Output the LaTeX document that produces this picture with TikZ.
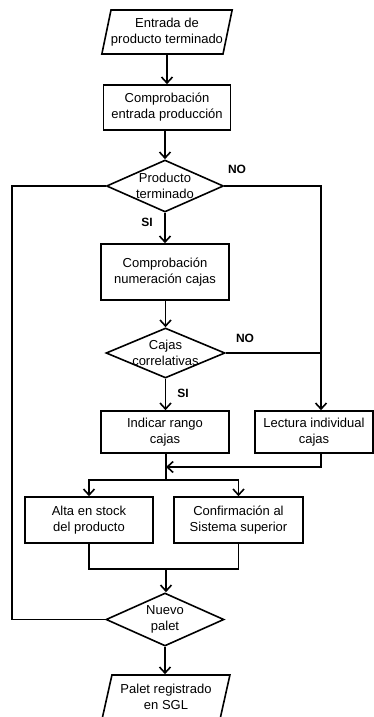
\documentclass[tikz,border=0pt]{standalone}
\usepackage{fontspec}
\setmainfont{Liberation Sans}
\usetikzlibrary{shapes.geometric,arrows.meta}

\tikzset{
  base/.style={draw, line width=1.6pt, inner sep=0pt, align=center,
    font=\fontsize{13}{16}\selectfont},
  procbox/.style={base, rectangle},
  iobox/.style={base, trapezium, trapezium left angle=72,
    trapezium right angle=108, trapezium stretches=true,
    minimum width=128pt, minimum height=44pt},
  decision/.style={base, diamond},
  decision text/.style={align=center, font=\fontsize{13}{16}\selectfont},
  flow/.style={line width=1.6pt},
  arr/.style={flow, -{Straight Barb[length=6pt,width=11pt]}},
  answer/.style={font=\fontsize{12}{14}\bfseries\selectfont, inner sep=0pt}
}

\begin{document}
\begin{tikzpicture}[x=1pt, y=-1pt]
  \useasboundingbox (0,0) rectangle (374,717);
  \clip (0,0) rectangle (374,717);

  % guide columns for the side lines
  \coordinate (lc) at (12,0);
  \coordinate (rc) at (321,0);

  % main column
  \node[iobox] (p1) at (167,32) {Entrada de\\producto terminado};
  \node[procbox, minimum width=127pt, minimum height=45pt] (b1) at (167,107.5)
    {Comprobación\\entrada producción};
  \node[decision, minimum width=117pt, minimum height=52pt,
    label={[decision text]center:Producto\\terminado}] (d1) at (165,186) {};
  \node[procbox, minimum width=128pt, minimum height=56pt] (b2) at (165,272)
    {Comprobación\\numeración cajas};
  \node[decision, minimum width=119pt, minimum height=50pt,
    label={[decision text]center:Cajas\\correlativas}] (d2) at (165.5,353) {};
  \node[procbox, minimum width=128pt, minimum height=42pt] (b3) at (165,432)
    {Indicar rango\\cajas};
  \node[procbox, minimum width=118pt, minimum height=42pt] (b4) at (314,432)
    {Lectura individual\\cajas};
  \node[procbox, minimum width=128pt, minimum height=46pt] (b5) at (89,520)
    {Alta en stock\\del producto};
  \node[procbox, minimum width=129pt, minimum height=46pt] (b6) at (238.5,520)
    {Confirmación al\\Sistema superior};
  \node[decision, minimum width=118pt, minimum height=53pt,
    label={[decision text]center:Nuevo\\palet}] (d3) at (165,619.5) {};
  \node[iobox] (p2) at (166,697) {Palet registrado\\en SGL};

  % junction points
  \coordinate (j1) at (166,467);
  \coordinate (j2) at (166,480);
  \coordinate (j3) at (166,569);

  % connectors
  \draw[arr] (b1.north |- p1.south) -- (b1.north);
  \draw[arr] (b1.south -| d1.north) -- (d1.north);
  \draw[arr] (d1.south) -- (d1.south |- b2.north);
  \draw[arr] (d1.east) -| (b4.north -| rc);
  \draw[arr] (d2.north |- b2.south) -- (d2.north);
  \draw[flow] (d2.east) -- (d2.east -| rc);
  \draw[arr] (d2.south) -- (d2.south |- b3.north);
  \draw[arr] (b4.south -| rc) |- (j1);
  \draw[flow] (b3.south -| j2) -- (j2);
  \draw[arr] (j2) -| (b5.north);
  \draw[arr] (j2) -| (b6.north);
  \draw[flow] (b5.south) |- (j3) -| (b6.south);
  \draw[arr] (j3) -- (j3 |- d3.north);
  \draw[arr] (d3.south) -- (d3.south |- p2.north);
  \draw[flow] (d1.west) -- (d1.west -| lc) -- (d3.west -| lc) -- (d3.west);

  % branch answers
  \node[answer] (no1) at (237,169) {NO};
  \node[answer] (si1) at (147,222) {SI};
  \node[answer] (no2) at (245,338) {NO};
  \node[answer] (si2) at (183,393) {SI};
\end{tikzpicture}
\end{document}
